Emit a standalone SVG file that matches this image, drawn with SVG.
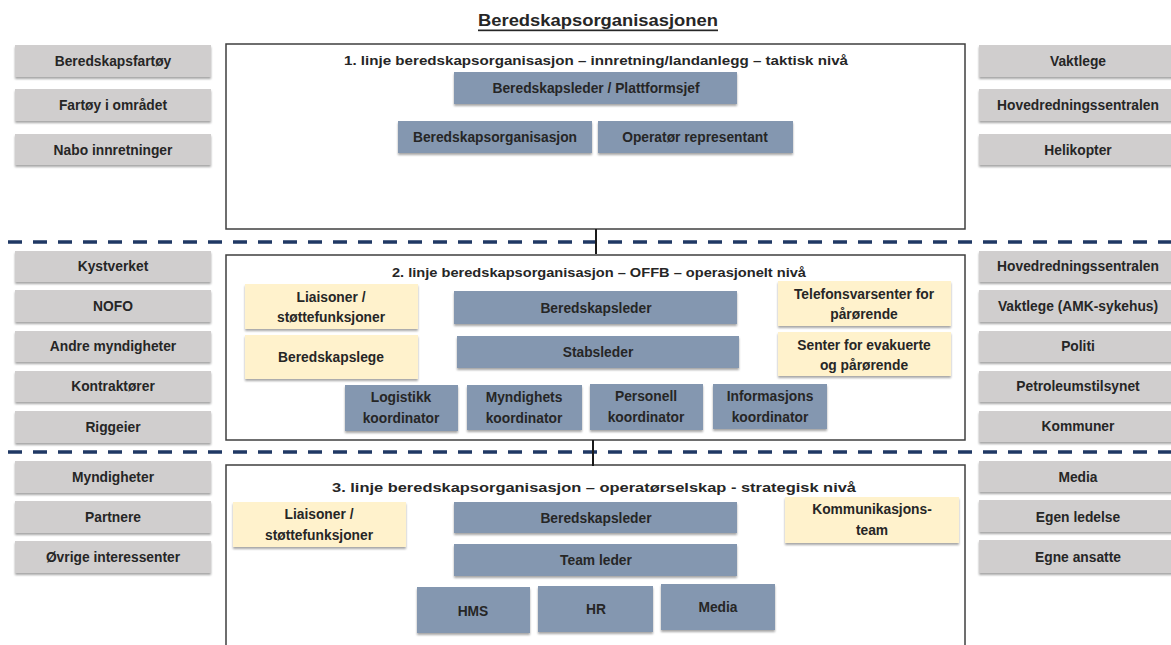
<svg xmlns="http://www.w3.org/2000/svg" width="1171" height="645" viewBox="0 0 1171 645">
  <style>
    text { font-family: "Liberation Sans", Arial, sans-serif; font-weight: bold; fill: #262626; text-anchor: middle; dominant-baseline: central; }
    .lbl { font-size: 13.8px; }
    .ttl { font-size: 13px; }
    .head { font-size: 17px; text-decoration: underline; }
    .gray { fill: #D0CECE; filter: url(#shadow); }
    .blue { fill: #8497B0; filter: url(#shadow); }
    .yel { fill: #FFF2CC; filter: url(#shadow); }
    .frame { fill: #FFFFFF; stroke: #3F3F3F; stroke-width: 1.5; }
    .divider { stroke: #1F3864; stroke-width: 3.5; stroke-dasharray: 14 11; fill: none; }
    .link { stroke: #1a1a1a; stroke-width: 2; fill: none; }
    .glow { stroke: #5B9BFF; stroke-width: 7; opacity: 0.55; filter: url(#blur); fill: none; }
  </style>
  <defs>
    <filter id="shadow" x="-10%" y="-20%" width="120%" height="160%">
      <feDropShadow dx="0" dy="2" stdDeviation="1.3" flood-color="#000" flood-opacity="0.35"/>
    </filter>
    <filter id="blur" x="-200%" y="-50%" width="500%" height="200%">
      <feGaussianBlur stdDeviation="2.5"/>
    </filter>
  </defs>

  <rect width="1171" height="645" fill="#FFFFFF"/>

  <text class="head" x="598" y="20" textLength="240" lengthAdjust="spacingAndGlyphs">Beredskapsorganisasjonen</text>

  <!-- level frames -->
  <g id="frame1"><rect class="frame" x="226" y="44" width="739" height="185"/>
    <text class="ttl" x="596" y="60" textLength="504" lengthAdjust="spacingAndGlyphs">1. linje beredskapsorganisasjon  – innretning/landanlegg  – taktisk nivå</text></g>
  <g id="frame2"><rect class="frame" x="226" y="255" width="739" height="185"/>
    <text class="ttl" x="599" y="272" textLength="414" lengthAdjust="spacingAndGlyphs">2. linje beredskapsorganisasjon  – OFFB – operasjonelt  nivå</text></g>
  <g id="frame3"><rect class="frame" x="226" y="465" width="739" height="190"/>
    <text class="ttl" x="594" y="487" textLength="524" lengthAdjust="spacingAndGlyphs">3. linje beredskapsorganisasjon  – operatørselskap  - strategisk nivå</text></g>

  <!-- connectors between levels -->
  <g id="connectors">
    <line class="divider" x1="8" y1="242" x2="1171" y2="242"/>
    <line class="divider" x1="8" y1="452" x2="1171" y2="452"/>
    <line class="glow" x1="596" y1="230" x2="596" y2="254"/>
    <line class="link" x1="596" y1="229" x2="596" y2="254"/>
    <line class="glow" x1="593" y1="441" x2="593" y2="466"/>
    <line class="link" x1="593" y1="440" x2="593" y2="466"/>
  </g>

  <!-- left column, level 1 -->
  <g id="l1a"><rect class="gray" x="15" y="45" width="196" height="32"/><text class="lbl" x="113" y="61">Beredskapsfartøy</text></g>
  <g id="l1b"><rect class="gray" x="15" y="89" width="196" height="32"/><text class="lbl" x="113" y="105">Fartøy i området</text></g>
  <g id="l1c"><rect class="gray" x="15" y="134" width="196" height="31"/><text class="lbl" x="113" y="150">Nabo innretninger</text></g>

  <!-- right column, level 1 -->
  <g id="r1a"><rect class="gray" x="979" y="45" width="200" height="32"/><text class="lbl" x="1078" y="61">Vaktlege</text></g>
  <g id="r1b"><rect class="gray" x="979" y="89" width="200" height="32"/><text class="lbl" x="1078" y="105">Hovedredningssentralen</text></g>
  <g id="r1c"><rect class="gray" x="979" y="134" width="200" height="31"/><text class="lbl" x="1078" y="150">Helikopter</text></g>

  <!-- level 1 nodes -->
  <g id="n1-leder"><rect class="blue" x="454" y="72" width="283" height="32"/><text class="lbl" x="596" y="88">Beredskapsleder / Plattformsjef</text></g>
  <g id="n1-org"><rect class="blue" x="398" y="121" width="194" height="32"/><text class="lbl" x="495" y="137">Beredskapsorganisasjon</text></g>
  <g id="n1-op"><rect class="blue" x="598" y="121" width="195" height="32"/><text class="lbl" x="695" y="137">Operatør representant</text></g>

  <!-- left column, level 2 -->
  <g id="l2a"><rect class="gray" x="15" y="251" width="196" height="31"/><text class="lbl" x="113" y="266">Kystverket</text></g>
  <g id="l2b"><rect class="gray" x="15" y="290" width="196" height="32"/><text class="lbl" x="113" y="306">NOFO</text></g>
  <g id="l2c"><rect class="gray" x="15" y="331" width="196" height="31"/><text class="lbl" x="113" y="346">Andre myndigheter</text></g>
  <g id="l2d"><rect class="gray" x="15" y="371" width="196" height="31"/><text class="lbl" x="113" y="386">Kontraktører</text></g>
  <g id="l2e"><rect class="gray" x="15" y="411" width="196" height="32"/><text class="lbl" x="113" y="427">Riggeier</text></g>

  <!-- right column, level 2 -->
  <g id="r2a"><rect class="gray" x="979" y="251" width="200" height="31"/><text class="lbl" x="1078" y="266">Hovedredningssentralen</text></g>
  <g id="r2b"><rect class="gray" x="979" y="290" width="200" height="32"/><text class="lbl" x="1078" y="306">Vaktlege (AMK-sykehus)</text></g>
  <g id="r2c"><rect class="gray" x="979" y="331" width="200" height="31"/><text class="lbl" x="1078" y="346">Politi</text></g>
  <g id="r2d"><rect class="gray" x="979" y="371" width="200" height="31"/><text class="lbl" x="1078" y="386">Petroleumstilsynet</text></g>
  <g id="r2e"><rect class="gray" x="979" y="411" width="200" height="31"/><text class="lbl" x="1078" y="426">Kommuner</text></g>

  <!-- level 2 nodes -->
  <g id="n2-liaison"><rect class="yel" x="245" y="284" width="173" height="45"/>
    <text class="lbl" x="331" y="297">Liaisoner /</text><text class="lbl" x="331" y="317">støttefunksjoner</text></g>
  <g id="n2-lege"><rect class="yel" x="245" y="335" width="173" height="44"/><text class="lbl" x="331" y="357">Beredskapslege</text></g>
  <g id="n2-leder"><rect class="blue" x="454" y="291" width="283" height="33"/><text class="lbl" x="596" y="308">Beredskapsleder</text></g>
  <g id="n2-stab"><rect class="blue" x="457" y="336" width="282" height="32"/><text class="lbl" x="598" y="352">Stabsleder</text></g>
  <g id="n2-tlf"><rect class="yel" x="778" y="281" width="173" height="45"/>
    <text class="lbl" x="864" y="294">Telefonsvarsenter for</text><text class="lbl" x="864" y="314">pårørende</text></g>
  <g id="n2-senter"><rect class="yel" x="778" y="332" width="173" height="44"/>
    <text class="lbl" x="864" y="345">Senter for evakuerte</text><text class="lbl" x="864" y="365">og pårørende</text></g>
  <g id="n2-log"><rect class="blue" x="345" y="385" width="113" height="46"/>
    <text class="lbl" x="401" y="397">Logistikk</text><text class="lbl" x="401" y="418">koordinator</text></g>
  <g id="n2-myn"><rect class="blue" x="467" y="385" width="115" height="45"/>
    <text class="lbl" x="524" y="397">Myndighets</text><text class="lbl" x="524" y="418">koordinator</text></g>
  <g id="n2-pers"><rect class="blue" x="590" y="384" width="113" height="46"/>
    <text class="lbl" x="646" y="396">Personell</text><text class="lbl" x="646" y="417">koordinator</text></g>
  <g id="n2-info"><rect class="blue" x="713" y="384" width="114" height="45"/>
    <text class="lbl" x="770" y="396">Informasjons</text><text class="lbl" x="770" y="417">koordinator</text></g>

  <!-- left column, level 3 -->
  <g id="l3a"><rect class="gray" x="15" y="461" width="196" height="32"/><text class="lbl" x="113" y="477">Myndigheter</text></g>
  <g id="l3b"><rect class="gray" x="15" y="501" width="196" height="32"/><text class="lbl" x="113" y="517">Partnere</text></g>
  <g id="l3c"><rect class="gray" x="15" y="541" width="196" height="32"/><text class="lbl" x="113" y="557">Øvrige interessenter</text></g>

  <!-- right column, level 3 -->
  <g id="r3a"><rect class="gray" x="979" y="461" width="200" height="31"/><text class="lbl" x="1078" y="477">Media</text></g>
  <g id="r3b"><rect class="gray" x="979" y="500" width="200" height="32"/><text class="lbl" x="1078" y="517">Egen ledelse</text></g>
  <g id="r3c"><rect class="gray" x="979" y="540" width="200" height="33"/><text class="lbl" x="1078" y="557">Egne ansatte</text></g>

  <!-- level 3 nodes -->
  <g id="n3-liaison"><rect class="yel" x="233" y="502" width="173" height="45"/>
    <text class="lbl" x="319" y="514">Liaisoner /</text><text class="lbl" x="319" y="535">støttefunksjoner</text></g>
  <g id="n3-leder"><rect class="blue" x="454" y="502" width="283" height="31"/><text class="lbl" x="596" y="518">Beredskapsleder</text></g>
  <g id="n3-team"><rect class="blue" x="454" y="544" width="283" height="32"/><text class="lbl" x="596" y="560">Team leder</text></g>
  <g id="n3-komm"><rect class="yel" x="785" y="497" width="174" height="46"/>
    <text class="lbl" x="872" y="509">Kommunikasjons-</text><text class="lbl" x="872" y="530">team</text></g>
  <g id="n3-hms"><rect class="blue" x="417" y="587" width="113" height="46"/><text class="lbl" x="473" y="611">HMS</text></g>
  <g id="n3-hr"><rect class="blue" x="538" y="586" width="115" height="46"/><text class="lbl" x="596" y="609">HR</text></g>
  <g id="n3-media"><rect class="blue" x="661" y="584" width="114" height="46"/><text class="lbl" x="718" y="607">Media</text></g>
</svg>
